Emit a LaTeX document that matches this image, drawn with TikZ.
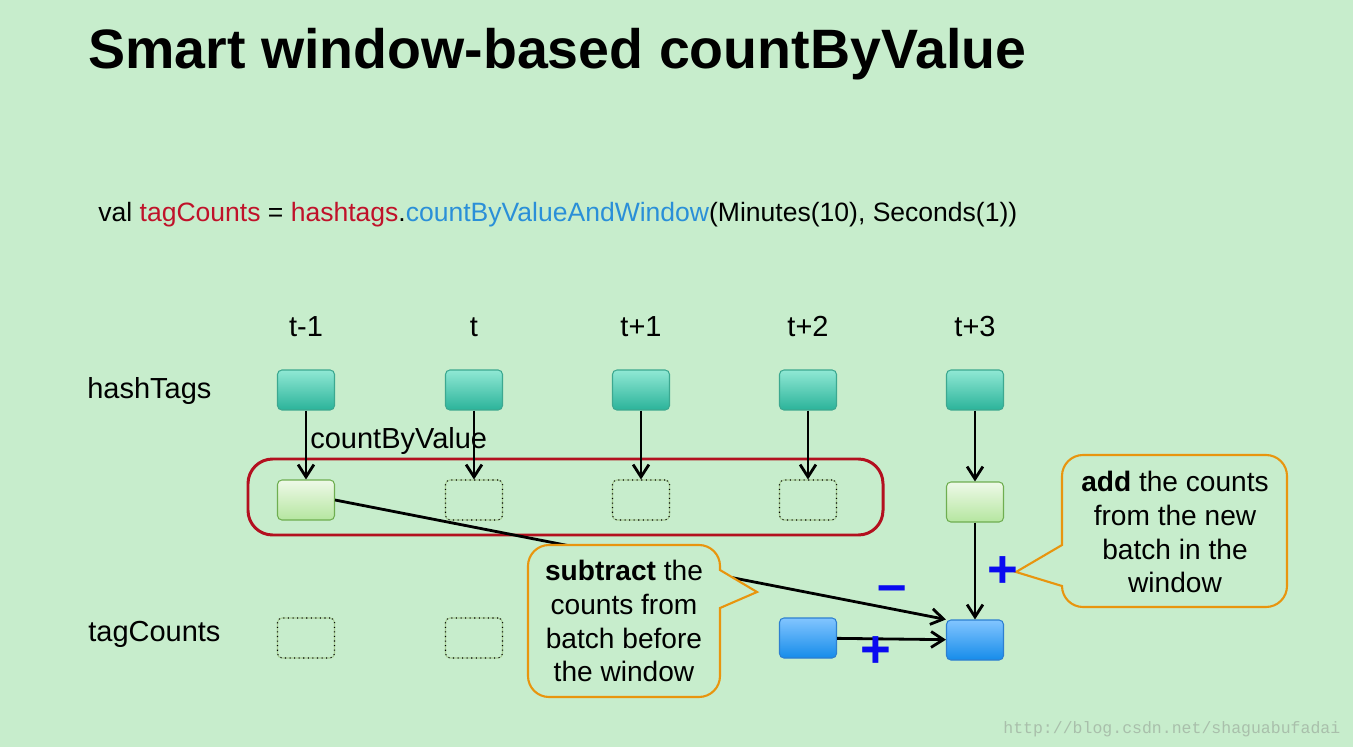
\documentclass[tikz,border=0pt]{standalone}
\usepackage{fontspec}
\setmainfont{Liberation Sans}
\newfontfamily\urlfont{Liberation Mono}
\usetikzlibrary{arrows.meta,positioning}

\definecolor{bg}{HTML}{C7EDCC}
\definecolor{tealtop}{HTML}{90E8D4}
\definecolor{tealbot}{HTML}{2BB39A}
\definecolor{tealline}{HTML}{3CA890}
\definecolor{greentop}{HTML}{EEF9E8}
\definecolor{greenbot}{HTML}{B5E6A0}
\definecolor{greenline}{HTML}{6FAE50}
\definecolor{bluetop}{HTML}{82C5FF}
\definecolor{bluebot}{HTML}{168CEA}
\definecolor{blueline}{HTML}{2D7FD0}
\definecolor{groupred}{HTML}{B3101F}
\definecolor{noteorange}{HTML}{E8950E}
\definecolor{codered}{HTML}{C0122A}
\definecolor{codeblue}{HTML}{2A8FD8}
\definecolor{signblue}{HTML}{0A0AF0}
\definecolor{urlgray}{HTML}{A9BFAB}

\begin{document}
\begin{tikzpicture}[x=0.02cm, y=-0.02cm, >={Straight Barb[length=7pt,width=9pt]},
                    every node/.style={inner sep=0pt},
                    font=\fontsize{16.5}{19.3}\selectfont]
    \tikzstyle{batch}=[rectangle, rounded corners=2.5pt, minimum width=1.14cm,
                       minimum height=0.8cm, line width=0.6pt]
    \tikzstyle{tag}=[batch, draw=tealline, top color=tealtop, bottom color=tealbot]
    \tikzstyle{cnt}=[batch, draw=greenline, top color=greentop, bottom color=greenbot]
    \tikzstyle{win}=[batch, draw=blueline, top color=bluetop, bottom color=bluebot]
    \tikzstyle{empty}=[batch, draw=greenline!60, postaction={draw=black, dotted, line width=0.6pt}]
    \tikzstyle{flow}=[->, line width=1.6pt]
    \tikzstyle{group}=[draw=groupred, line width=1.7pt, rounded corners=14pt]
    \tikzstyle{note}=[draw=noteorange, fill=bg, line width=1.2pt]
    \tikzstyle{notetext}=[align=center, font=\fontsize{16}{19.3}\selectfont]
    \tikzstyle{sign}=[text=signblue, font=\fontsize{30}{30}\selectfont\bfseries]

    % page and margins
    \fill[bg] (0,0) rectangle (1353,747);

    \node[anchor=base west, font=\fontsize{31.6}{38}\selectfont\bfseries] (title) at (88,68)
        {Smart window-based countByValue};
    \node[anchor=base west, font=\fontsize{15.1}{18}\selectfont] (code) at (98,221)
        {val \textcolor{codered}{tagCounts} = \textcolor{codered}{hashtags}.\textcolor{codeblue}{countByValueAndWindow}(Minutes(10), Seconds(1))};

    \node[anchor=base west] (hashtags)  at (87,398) {hashTags};
    \node[anchor=base west] (tagcounts) at (88,641) {tagCounts};

    % one column per batch
    \foreach \x/\t [count=\i] in {306/t-1, 474/t, 641/t+1, 808/t+2, 975/t+3} {
        \node[anchor=base] (t\i) at (\x,336) {\t};
        \node[tag] (h\i) at (\x,390) {};
    }

    \node[cnt]   (c1) at (306,500) {};
    \node[empty] (c2) at (474,500) {};
    \node[empty] (c3) at (641,500) {};
    \node[empty] (c4) at (808,500) {};
    \node[cnt]   (c5) at (975,502) {};

    \node[empty] (w1) at (306,638) {};
    \node[empty] (w2) at (474,638) {};
    \node[win]   (w4) at (808,638) {};
    \node[win]   (w5) at (975,640) {};

    \draw[group] (248,459) rectangle (883,535);

    \foreach \i in {1,...,5}
        \draw[flow] (h\i) -- (c\i);
    \node[anchor=base west] (cbv) at (310,448) {countByValue};

    \draw[flow] (c1.east) -- (w5.north west);
    \draw[flow] (c5) -- (w5);
    \draw[flow] (w4) -- (w5);

    % callouts
    \draw[note] (549,697) arc[start angle=90, end angle=180, radius=21] -- (528,566)
        arc[start angle=180, end angle=270, radius=21] -- (699,545)
        arc[start angle=270, end angle=360, radius=21] -- (720,570) -- (757,592) -- (720,608)
        -- (720,676) arc[start angle=0, end angle=90, radius=21] -- cycle;
    \node[notetext] (sub) at (624,621)
        {\textbf{subtract} the\\counts from\\batch before\\the window};

    \draw[note] (1083,455) -- (1266,455) arc[start angle=270, end angle=360, radius=21]
        -- (1287,586) arc[start angle=0, end angle=90, radius=21] -- (1083,607)
        arc[start angle=90, end angle=180, radius=21] -- (1016,572) -- (1062,545)
        -- (1062,476) arc[start angle=180, end angle=270, radius=21] -- cycle;
    \node[notetext] (add) at (1175,532)
        {\textbf{add} the counts\\from the new\\batch in the\\window};

    \node[sign] (minus) at (892,594) {--};
    \node[sign] (plus1) at (876,652) {+};
    \node[sign] (plus2) at (1003,572) {+};

    \node[anchor=base west, font=\urlfont\fontsize{9.4}{10}\selectfont, text=urlgray] (url)
        at (1003,733) {http://blog.csdn.net/shaguabufadai};
\end{tikzpicture}
\end{document}
